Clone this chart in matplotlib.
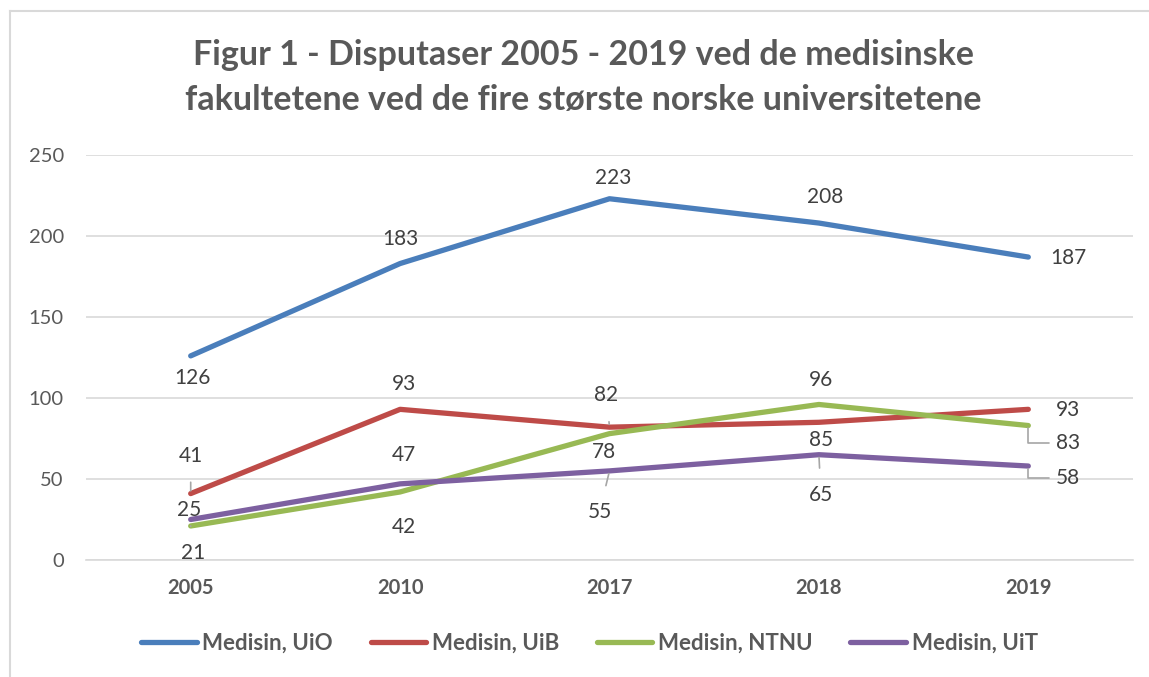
import matplotlib
matplotlib.use("Agg")
import matplotlib.pyplot as plt
from matplotlib.lines import Line2D

plt.rcParams['font.family'] = ['Lato', 'DejaVu Sans']

years = ['2005', '2010', '2017', '2018', '2019']
series_names = ['Medisin, UiO', 'Medisin, UiB', 'Medisin, NTNU', 'Medisin, UiT']
uio = [126, 183, 223, 208, 187]
uib = [41, 93, 82, 85, 93]
ntnu = [21, 42, 78, 96, 83]
uit = [25, 47, 55, 65, 58]
colors = ['#4A7EBB', '#BE4B48', '#98B954', '#7D60A0']
title_lines = ['Figur 1 - Disputaser 2005 - 2019 ved de medisinske',
               'fakultetene ved de fire største norske universitetene']

# label offsets in pixels (dx, dy) and leader style per point
offsets = [
    [(2, -22, None), (0, 25, None), (4, 21, None), (6, 26, None), (40, -1, None)],
    [(0, 38, 'v'), (4, 25, None), (-3, 32, 'v'), (2, -18, None), (40, -1, None)],
    [(2, -27, 'v'), (4, -35, None), (-6, -18, None), (2, 24, None), (40, -17, 'e')],
    [(-2, 9, None), (4, 29, None), (-10, -41, 'v'), (2, -40, 'v'), (40, -12, 'e')],
]

fig = plt.figure(figsize=(11.49, 6.77), dpi=100)
ax = fig.add_axes([86/1149, 1-560/677, (1133-86)/1149, (560-155)/677])

x = list(range(len(years)))
all_series = [uio, uib, ntnu, uit]
for vals, col, name in zip(all_series, colors, series_names):
    ax.plot(x, vals, color=col, lw=3.8, solid_capstyle='round', label=name, zorder=3)

lab_fs = 15
for vals, offs in zip(all_series, offsets):
    for xi, (v, (dx, dy, lead)) in enumerate(zip(vals, offs)):
        kw = dict(xytext=(dx, dy), textcoords='offset pixels', ha='center', va='center',
                  fontsize=lab_fs, color='#404040', zorder=4)
        if lead == 'v':
            kw['arrowprops'] = dict(arrowstyle='-', color='#A6A6A6', lw=1.2,
                                    shrinkA=10, shrinkB=2)
        elif lead == 'e':
            kw['arrowprops'] = dict(arrowstyle='-', color='#A6A6A6', lw=1.2,
                                    shrinkA=3, shrinkB=2,
                                    connectionstyle='angle,angleA=0,angleB=90,rad=0',
                                    relpos=(0, 0.5))
        ax.annotate(str(v), (xi, v), **kw)

ax.set_xlim(-0.5, 4.5)
ax.set_ylim(0, 250)
ax.set_yticks([0, 50, 100, 150, 200, 250])
ax.set_xticks(x)
ax.set_xticklabels(years, fontweight='bold')
ax.grid(axis='y', color='#D9D9D9', lw=1.2, zorder=0)
for s in ['top', 'right', 'left']:
    ax.spines[s].set_visible(False)
ax.spines['bottom'].set_color('#D9D9D9')
ax.spines['bottom'].set_linewidth(1.2)
ax.tick_params(axis='both', length=0, labelsize=14.5, labelcolor='#595959')
ax.tick_params(axis='y', pad=16)
ax.tick_params(axis='x', pad=13)

fig.text(0.508, 1-55/677, title_lines[0], ha='center', va='center', fontsize=24.5,
         fontweight='bold', color='#595959')
fig.text(0.508, 1-100/677, title_lines[1], ha='center', va='center', fontsize=24.5,
         fontweight='bold', color='#595959')

handles = [Line2D([0], [0], color=c, lw=3.8, solid_capstyle='round') for c in colors]
leg = fig.legend(handles, series_names, loc='center', bbox_to_anchor=(0.513, 1-643/677), ncol=4,
                 frameon=False, handlelength=2.5, handletextpad=0.25, columnspacing=1.7,
                 prop={'weight': 'bold', 'size': 16})
for t in leg.get_texts():
    t.set_color('#595959')

fig.add_artist(Line2D([10/1149, 10/1149], [0, 1-11/677], color='#D9D9D9', lw=1.5,
                      transform=fig.transFigure))
fig.add_artist(Line2D([10/1149, 1], [1-11/677, 1-11/677], color='#D9D9D9', lw=1.5,
                      transform=fig.transFigure))

fig.savefig('out.png', dpi=100)
